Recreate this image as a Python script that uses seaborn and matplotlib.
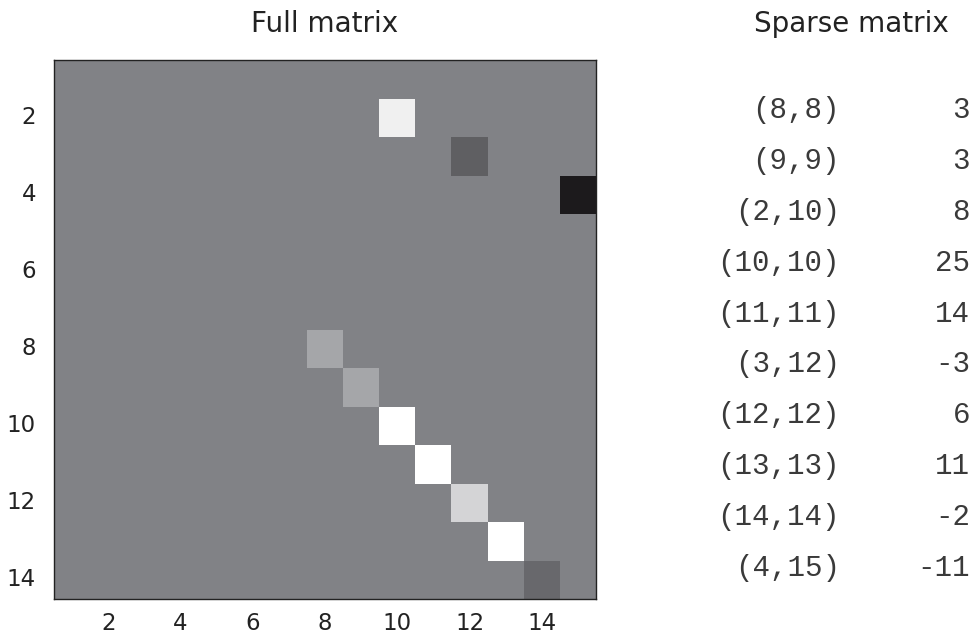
import numpy as np
import pandas as pd
import matplotlib
matplotlib.use("Agg")
import matplotlib.pyplot as plt
from matplotlib.colors import LinearSegmentedColormap
import seaborn as sns

# ---- data ----
rows = [8, 9, 2, 10, 11, 3, 12, 13, 14, 4]
cols = [8, 9, 10, 10, 11, 12, 12, 13, 14, 15]
values = [3, 3, 8, 25, 14, -3, 6, 11, -2, -11]
n_rows, n_cols = 14, 15
xtick_labels = [2, 4, 6, 8, 10, 12, 14]
ytick_labels = [2, 4, 6, 8, 10, 12, 14]

mat = np.zeros((n_rows, n_cols))
for r, c, v in zip(rows, cols, values):
    mat[r - 1, c - 1] = v
df = pd.DataFrame(mat, index=range(1, n_rows + 1), columns=range(1, n_cols + 1))

sns.set_theme(style="white")
plt.rcParams['font.family'] = ['DejaVu Sans']

vmin, vmax = -11, 11
nodes = [(-11, (0.11, 0.10, 0.11)), (-3, (0.37, 0.37, 0.385)), (-2, (0.41, 0.41, 0.425)),
         (0, (0.502, 0.506, 0.525)), (3, (0.65, 0.652, 0.665)), (6, (0.83, 0.83, 0.84)),
         (8, (0.94, 0.94, 0.94)), (10, (1, 1, 1)), (11, (1, 1, 1))]
cmap = LinearSegmentedColormap.from_list(
    "mgray", [((v - vmin) / (vmax - vmin), c) for v, c in nodes])

fig = plt.figure(figsize=(9.75, 6.37), dpi=100)
ax = fig.add_axes([54 / 975, 1 - 599 / 637, 542 / 975, 539 / 637])
sns.heatmap(df, ax=ax, cmap=cmap, vmin=vmin, vmax=vmax, cbar=False, square=False)
ax.set_aspect("auto")
ax.set_xticks([x - 0.5 for x in xtick_labels])
ax.set_xticklabels([str(x) for x in xtick_labels], rotation=0)
ax.set_yticks([y - 0.5 for y in ytick_labels])
ax.set_yticklabels([str(y) for y in ytick_labels], rotation=0)
ax.set_xlabel("")
ax.set_ylabel("")
for s in ax.spines.values():
    s.set_visible(True)
    s.set_color("#222222")
    s.set_linewidth(1.0)
ax.tick_params(axis="both", which="both", direction="in", length=6, width=1,
               color="#222222", top=True, right=True, bottom=True, left=True,
               labelsize=16.5, labelcolor="#222222")
ax.tick_params(axis="x", pad=9)
ax.tick_params(axis="y", pad=13)

fig.text(325 / 975, 1 - 24 / 637, "Full matrix", ha="center", va="center",
         fontsize=20, color="#222222")

# Sparse listing
fig.text(851 / 975, 1 - 24 / 637, "Sparse matrix", ha="center", va="center",
         fontsize=20, color="#222222")
y0, dy = 110, 50.9
for i, (r, c, v) in enumerate(zip(rows, cols, values)):
    y = 1 - (y0 + i * dy) / 637
    fig.text(840 / 975, y, f"({r},{c})", ha="right", va="center",
             fontsize=21, family="Liberation Mono", color="#3a3a3a")
    fig.text(970 / 975, y, f"{v}", ha="right", va="center",
             fontsize=21, family="Liberation Mono", color="#3a3a3a")

fig.savefig("out.png", dpi=100)
